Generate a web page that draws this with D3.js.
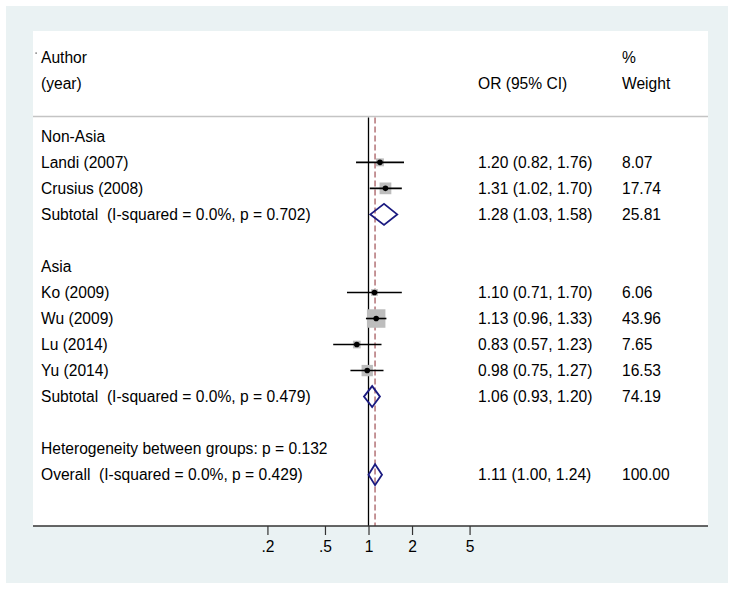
<!DOCTYPE html>
<html>
<head>
<meta charset="utf-8">
<script src="https://cdn.jsdelivr.net/npm/d3@7"></script>
<style>
  html, body { margin: 0; padding: 0; background: #ffffff; }
  svg text { font-family: "Liberation Sans", Arial, sans-serif; white-space: pre; }
</style>
</head>
<body>
<svg id="chart" width="735" height="590"></svg>
<script>
// ---------- data ----------
const rowLabels = [
  "Non-Asia",
  "Landi (2007)",
  "Crusius (2008)",
  "Subtotal  (I-squared = 0.0%, p = 0.702)",
  "",
  "Asia",
  "Ko (2009)",
  "Wu (2009)",
  "Lu (2014)",
  "Yu (2014)",
  "Subtotal  (I-squared = 0.0%, p = 0.479)",
  "",
  "Heterogeneity between groups: p = 0.132",
  "Overall  (I-squared = 0.0%, p = 0.429)"
];
const rowTypes = ["group","study","study","subtotal","blank","group","study","study","study","study","subtotal","blank","text","overall"];
const orValues = [null, 1.20, 1.31, 1.28, null, null, 1.10, 1.13, 0.83, 0.98, 1.06, null, null, 1.11];
const ciLower  = [null, 0.82, 1.02, 1.03, null, null, 0.71, 0.96, 0.57, 0.75, 0.93, null, null, 1.00];
const ciUpper  = [null, 1.76, 1.70, 1.58, null, null, 1.70, 1.33, 1.23, 1.27, 1.20, null, null, 1.24];
const weights  = [null, 8.07, 17.74, 25.81, null, null, 6.06, 43.96, 7.65, 16.53, 74.19, null, null, 100.00];
const tickValues = [0.2, 0.5, 1, 2, 5];
const tickLabels = [".2", ".5", "1", "2", "5"];
const headerLeft = ["Author", "(year)"];
const headerMid = ["", "OR (95% CI)"];
const headerRight = ["%", "Weight"];
const nullValue = 1;
const overallValue = 1.11;

// ---------- layout ----------
const W = 735, H = 590;
const outer = {x0: 6, y0: 6, x1: 728, y1: 583};
const panel = {x0: 33, y0: 31, x1: 708, y1: 526};
const fontSize = 15.6;
const colLabel = 41, colOR = 478, colWeight = 622;
const headerBase = 62.7, headerStep = 26;
const sepY = 116.5;
const firstBase = 141.7, rowStep = 26.03;
const markerOffset = 5.4;

const svg = d3.select("#chart");

svg.append("rect").attr("x", 0).attr("y", 0).attr("width", W).attr("height", H).attr("fill", "#ffffff");
svg.append("rect")
  .attr("x", outer.x0).attr("y", outer.y0)
  .attr("width", outer.x1 - outer.x0).attr("height", outer.y1 - outer.y0)
  .attr("fill", "#eaf2f3");
svg.append("rect")
  .attr("x", panel.x0).attr("y", panel.y0)
  .attr("width", panel.x1 - panel.x0).attr("height", panel.y1 - panel.y0)
  .attr("fill", "#ffffff");

// scales
const x = d3.scaleLog().domain([0.2, 5]).range([368.5 - 144.6 * Math.log10(5), 368.5 + 144.6 * Math.log10(5)]);
const yBase = d3.scaleLinear().domain([0, 1]).range([firstBase, firstBase + rowStep]);
const boxSide = d3.scaleSqrt().domain([0, 100]).range([0, 27.9]);

// tiny mark at top-left
svg.append("rect").attr("x", 35.5).attr("y", 52.5).attr("width", 1.2).attr("height", 1.2).attr("fill", "#333");

// header text
const txt = (xx, yy, s, anchor) => svg.append("text")
  .attr("x", xx).attr("y", yy).attr("font-size", fontSize).attr("fill", "#000")
  .attr("text-anchor", anchor || "start").text(s);

headerLeft.forEach((s, i) => txt(colLabel, headerBase + i * headerStep, s));
headerMid.forEach((s, i) => { if (s) txt(colOR, headerBase + i * headerStep, s); });
headerRight.forEach((s, i) => txt(colWeight, headerBase + i * headerStep, s));

// separator
svg.append("line")
  .attr("x1", panel.x0).attr("x2", panel.x1).attr("y1", sepY).attr("y2", sepY)
  .attr("stroke", "#c4c4c4").attr("stroke-width", 1.5);

// null line
svg.append("line")
  .attr("x1", x(nullValue)).attr("x2", x(nullValue))
  .attr("y1", sepY + 1).attr("y2", panel.y1)
  .attr("stroke", "#000").attr("stroke-width", 1.3);

// overall dashed line
svg.append("line")
  .attr("x1", x(overallValue)).attr("x2", x(overallValue))
  .attr("y1", sepY + 1).attr("y2", panel.y1)
  .attr("stroke", "#c08a8e").attr("stroke-width", 1.8)
  .attr("stroke-dasharray", "6,3");

// rows
rowLabels.forEach((lab, i) => {
  const base = yBase(i);
  const cy = base - markerOffset;
  if (lab) txt(colLabel, base, lab);
  const t = rowTypes[i];
  if (orValues[i] != null) {
    txt(colOR, base, `${d3.format(".2f")(orValues[i])} (${d3.format(".2f")(ciLower[i])}, ${d3.format(".2f")(ciUpper[i])})`);
    txt(colWeight, base, d3.format(".2f")(weights[i]));
  }
  if (t === "study") {
    const s = boxSide(weights[i]);
    svg.append("rect")
      .attr("x", x(orValues[i]) - s / 2).attr("y", cy - s / 2)
      .attr("width", s).attr("height", s)
      .attr("fill", "#bdbdbd");
    svg.append("line")
      .attr("x1", x(ciLower[i])).attr("x2", x(ciUpper[i]))
      .attr("y1", cy).attr("y2", cy)
      .attr("stroke", "#000").attr("stroke-width", 1.6);
    svg.append("circle")
      .attr("cx", x(orValues[i])).attr("cy", cy).attr("r", 2.8)
      .attr("fill", "#000");
  } else if (t === "subtotal" || t === "overall") {
    const hh = 10.5;
    const pts = [
      [x(ciLower[i]), cy],
      [x(orValues[i]), cy - hh],
      [x(ciUpper[i]), cy],
      [x(orValues[i]), cy + hh]
    ];
    svg.append("path")
      .attr("d", d3.line()(pts) + "Z")
      .attr("fill", "none").attr("stroke", "#1a1a80").attr("stroke-width", 1.8)
      .attr("stroke-linejoin", "miter");
  }
});

// axis
const axisG = svg.append("g").attr("transform", `translate(0,${panel.y1})`);
axisG.append("line")
  .attr("x1", panel.x0).attr("x2", panel.x1).attr("y1", 0).attr("y2", 0)
  .attr("stroke", "#333").attr("stroke-width", 1.5);
const axis = d3.axisBottom(x).tickValues(tickValues)
  .tickFormat((d, i) => tickLabels[i]).tickSize(9).tickPadding(6);
const ag = axisG.append("g").call(axis);
ag.select(".domain").remove();
ag.selectAll(".tick line").attr("stroke", "#333").attr("stroke-width", 1.2);
ag.selectAll(".tick text")
  .attr("font-size", fontSize).attr("fill", "#000")
  .attr("font-family", "'Liberation Sans', Arial, sans-serif");
</script>
</body>
</html>
